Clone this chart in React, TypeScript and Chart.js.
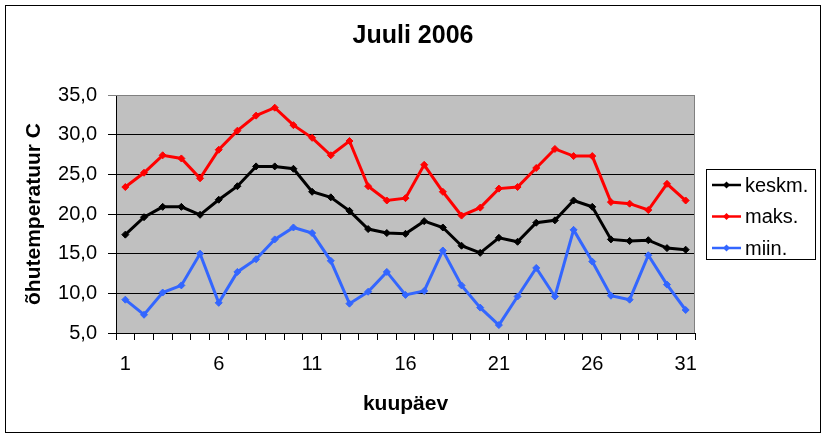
import React, { useEffect, useRef } from "react";
import { Chart, registerables } from "chart.js";

Chart.register(...registerables);

const FONT = "Arial, 'Liberation Sans', sans-serif";

const days = [
  "1", "2", "3", "4", "5", "6", "7", "8", "9", "10",
  "11", "12", "13", "14", "15", "16", "17", "18", "19", "20",
  "21", "22", "23", "24", "25", "26", "27", "28", "29", "30", "31",
];

const keskm = [
  17.4, 19.6, 20.9, 20.9, 19.9, 21.8, 23.5, 26.0, 26.0, 25.7,
  22.8, 22.1, 20.4, 18.1, 17.6, 17.5, 19.1, 18.3, 16.0, 15.1,
  17.0, 16.5, 18.9, 19.2, 21.7, 20.9, 16.8, 16.6, 16.7, 15.7, 15.5,
];

const maks = [
  23.4, 25.2, 27.4, 27.0, 24.5, 28.1, 30.5, 32.4, 33.4, 31.2,
  29.6, 27.4, 29.2, 23.5, 21.7, 22.0, 26.2, 22.8, 19.8, 20.8,
  23.2, 23.4, 25.8, 28.2, 27.3, 27.3, 21.5, 21.3, 20.5, 23.8, 21.7,
];

const miin = [
  9.2, 7.3, 10.1, 11.0, 15.0, 8.8, 12.7, 14.3, 16.8, 18.3,
  17.6, 14.1, 8.7, 10.2, 12.7, 9.8, 10.3, 15.4, 11.0, 8.2,
  6.0, 9.6, 13.2, 9.6, 18.0, 14.0, 9.7, 9.2, 14.8, 11.1, 7.9,
];

const seriesLabels = ["keskm.", "maks.", "miin."];
const seriesColors = ["#000000", "#FF0000", "#3366FF"];

const yTickValues = [5, 10, 15, 20, 25, 30, 35];

const chartTitle = "Juuli 2006";
const xTitle = "kuupäev";
const yTitle = "õhutemperatuur C";

function drawDiamond(ctx: CanvasRenderingContext2D, x: number, y: number, r: number, color: string) {
  ctx.beginPath();
  ctx.moveTo(x, y - r);
  ctx.lineTo(x + r, y);
  ctx.lineTo(x, y + r);
  ctx.lineTo(x - r, y);
  ctx.closePath();
  ctx.fillStyle = color;
  ctx.fill();
}

const framePlugin = {
  id: "excelFrame",
  beforeDraw(chart: any) {
    const { ctx, chartArea, width, height } = chart;
    ctx.save();
    ctx.fillStyle = "#FFFFFF";
    ctx.fillRect(0, 0, width, height);
    ctx.strokeStyle = "#000000";
    ctx.lineWidth = 1;
    ctx.strokeRect(5.5, 5.5, width - 11, height - 11);
    ctx.fillStyle = "#C0C0C0";
    ctx.fillRect(chartArea.left, chartArea.top, chartArea.right - chartArea.left, chartArea.bottom - chartArea.top);
    ctx.restore();
  },
  beforeDatasetsDraw(chart: any) {
    const { ctx, chartArea } = chart;
    ctx.save();
    ctx.strokeStyle = "#808080";
    ctx.lineWidth = 1;
    ctx.beginPath();
    ctx.moveTo(chartArea.left, chartArea.top + 0.5);
    ctx.lineTo(chartArea.right - 0.5, chartArea.top + 0.5);
    ctx.lineTo(chartArea.right - 0.5, chartArea.bottom);
    ctx.stroke();
    ctx.restore();
  },
  afterDraw(chart: any) {
    const { ctx, chartArea } = chart;
    const bx = chartArea.right + 11;
    const bw = 109;
    const bh = 90;
    const by = Math.round((chartArea.top + chartArea.bottom) / 2 - bh / 2);
    ctx.save();
    ctx.fillStyle = "#FFFFFF";
    ctx.fillRect(bx, by, bw, bh);
    ctx.strokeStyle = "#000000";
    ctx.lineWidth = 1;
    ctx.strokeRect(bx + 0.5, by + 0.5, bw, bh);
    ctx.font = `20px ${FONT}`;
    ctx.textBaseline = "middle";
    ctx.textAlign = "left";
    chart.data.datasets.forEach((ds: any, i: number) => {
      const cy = by + 16 + i * 31.5;
      ctx.strokeStyle = ds.borderColor;
      ctx.lineWidth = 2.5;
      ctx.beginPath();
      ctx.moveTo(bx + 6, cy);
      ctx.lineTo(bx + 35, cy);
      ctx.stroke();
      drawDiamond(ctx, bx + 20.5, cy, 3.5, ds.borderColor);
      ctx.fillStyle = "#000000";
      ctx.fillText(ds.label, bx + 39, cy + 1);
    });
    ctx.restore();
  },
};

export default function App() {
  const canvasRef = useRef<HTMLCanvasElement | null>(null);

  useEffect(() => {
    document.body.style.margin = "0";
    const canvas = canvasRef.current;
    if (!canvas) return;
    const series = [keskm, maks, miin];
    const chart = new Chart(canvas, {
      type: "line",
      data: {
        labels: days,
        datasets: series.map((data, i) => ({
          label: seriesLabels[i],
          data,
          borderColor: seriesColors[i],
          backgroundColor: seriesColors[i],
          borderWidth: 3,
          pointStyle: "rectRot",
          pointRadius: 3.5,
          pointBorderWidth: 1,
          pointBackgroundColor: seriesColors[i],
          pointBorderColor: seriesColors[i],
          tension: 0,
          fill: false,
          yAxisID: "y",
        })),
      },
      options: {
        animation: false,
        responsive: false,
        maintainAspectRatio: false,
        events: [],
        layout: { padding: 0 },
        plugins: {
          legend: { display: false },
          tooltip: { enabled: false },
          title: {
            display: true,
            text: chartTitle,
            color: "#000000",
            font: { family: FONT, size: 25, weight: "bold" },
            padding: { top: 21, bottom: 44 },
          },
        },
        scales: {
          x: {
            type: "category",
            offset: true,
            grid: {
              display: true,
              drawOnChartArea: false,
              drawTicks: true,
              tickLength: 7,
              color: "#000000",
              offset: true,
            },
            border: { display: true, color: "#000000", width: 1 },
            ticks: {
              autoSkip: false,
              maxRotation: 0,
              minRotation: 0,
              padding: 12,
              color: "#000000",
              font: { family: FONT, size: 20 },
              callback: (_v: any, i: number) => (i % 5 === 0 ? days[i] : ""),
            },
            title: {
              display: true,
              text: xTitle,
              color: "#000000",
              font: { family: FONT, size: 21, weight: "bold" },
              padding: { top: 0, bottom: 21 },
            },
            afterFit: (s: any) => {
              s.height = 105;
            },
          },
          y: {
            type: "linear",
            position: "left",
            min: yTickValues[0],
            max: yTickValues[yTickValues.length - 1],
            afterBuildTicks: (s: any) => {
              s.ticks = yTickValues.map((v) => ({ value: v }));
            },
            grid: {
              color: (c: any) => (c.tick && c.tick.value === 35 ? "#808080" : "#000000"),
              lineWidth: 1,
              drawTicks: true,
              tickLength: 8,
            },
            border: { display: true, color: "#000000", width: 1 },
            ticks: {
              padding: 11,
              color: "#000000",
              font: { family: FONT, size: 20 },
              callback: (v: any) => Number(v).toFixed(1).replace(".", ","),
            },
            title: {
              display: true,
              text: yTitle,
              color: "#000000",
              font: { family: FONT, size: 21, weight: "bold" },
              padding: { top: 22, bottom: 0 },
            },
            afterFit: (s: any) => {
              s.width = 116;
            },
          },
          legendSpace: {
            type: "linear",
            position: "right",
            display: true,
            grid: { display: false, drawTicks: false },
            border: { display: false },
            ticks: { display: false },
            afterFit: (s: any) => {
              s.width = 131;
            },
          },
        },
      } as any,
      plugins: [framePlugin],
    });
    return () => {
      chart.destroy();
    };
  }, []);

  return (
    <div style={{ position: "absolute", left: 0, top: 0, width: 826, height: 438 }}>
      <canvas ref={canvasRef} width={826} height={438} style={{ display: "block", width: 826, height: 438 }} />
    </div>
  );
}
